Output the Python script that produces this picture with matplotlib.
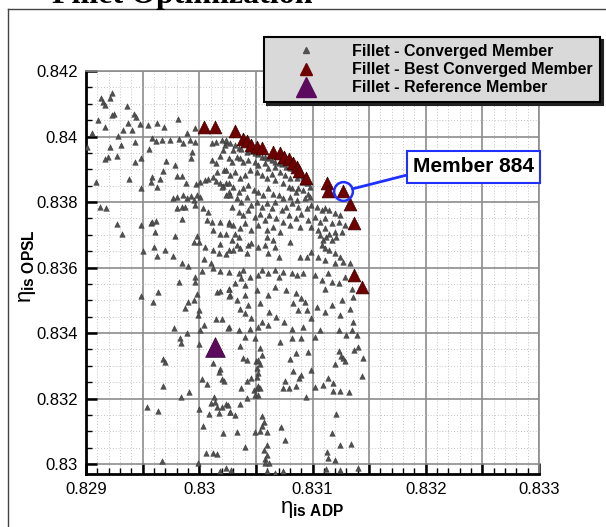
import matplotlib
matplotlib.use('Agg')
import matplotlib.pyplot as plt
from matplotlib.lines import Line2D
from matplotlib.ticker import MultipleLocator, FuncFormatter

plt.rcParams['font.family'] = ['Liberation Sans', 'DejaVu Sans']
plt.rcParams['mathtext.fontset'] = 'custom'
plt.rcParams['mathtext.rm'] = 'Liberation Sans'
plt.rcParams['mathtext.bf'] = 'Liberation Sans:bold'
plt.rcParams['mathtext.it'] = 'Liberation Sans:italic'

# converged members, read region by region off the picture (eta_is ADP, eta_is OPSL)
adp_upper_left = [
    0.82923, 0.82921, 0.82913, 0.82915, 0.82917, 0.82936, 0.82925, 0.82923, 0.82942, 0.82944,
    0.82911, 0.82937, 0.82948, 0.82917, 0.82933, 0.82941, 0.82955, 0.82963, 0.82969, 0.82981,
    0.82905, 0.82928, 0.82958, 0.82962, 0.82967, 0.82974, 0.82982, 0.82989, 0.82996, 0.82992,
    0.82996, 0.82986, 0.82943, 0.82901, 0.82921, 0.82931, 0.82956, 0.82994, 0.82993, 0.82971,
    0.82979, 0.82949, 0.82943, 0.82927, 0.82919, 0.82917, 0.82968, 0.82958, 0.82965, 0.82980,
    0.82985, 0.82909, 0.82938, 0.82957, 0.82963, 0.82949, 0.82988, 0.82997, 0.83001, 0.83005,
    0.83008, 0.83012, 0.83015, 0.82980, 0.82977, 0.82986, 0.82989, 0.82993, 0.82998, 0.83001,
    0.82995, 0.82980, 0.82985, 0.82987, 0.82996, 0.83003, 0.83008, 0.82912, 0.82918, 0.83011,
    0.83015, 0.83018, 0.83021, 0.83023, 0.83024, 0.83011, 0.83015, 0.83020, 0.83018, 0.83021,
    0.83024, 0.83020, 0.83022, 0.83016, 0.83024, 0.83026,
]
opsl_upper_left = [
    0.84132, 0.84117, 0.84117, 0.84106, 0.84096, 0.84093, 0.84069, 0.84066, 0.84069, 0.84059,
    0.84050, 0.84042, 0.84038, 0.84030, 0.84020, 0.84020, 0.84035, 0.84040, 0.84030, 0.84052,
    0.84012, 0.84002, 0.83997, 0.83987, 0.83989, 0.83989, 0.83991, 0.84010, 0.84025, 0.83989,
    0.83984, 0.83979, 0.83984, 0.83969, 0.83967, 0.83974, 0.83962, 0.83954, 0.83933, 0.83926,
    0.83913, 0.83935, 0.83921, 0.83940, 0.83938, 0.83930, 0.83896, 0.83877, 0.83869, 0.83879,
    0.83879, 0.83862, 0.83870, 0.83862, 0.83847, 0.83844, 0.83859, 0.83854, 0.83862, 0.83867,
    0.83869, 0.83875, 0.83865, 0.83816, 0.83811, 0.83821, 0.83811, 0.83818, 0.83821, 0.83816,
    0.83806, 0.83781, 0.83786, 0.83784, 0.83791, 0.83781, 0.83770, 0.83786, 0.83781, 0.83928,
    0.83920, 0.83940, 0.83959, 0.83974, 0.83984, 0.83979, 0.83984, 0.83989, 0.83857, 0.83849,
    0.83857, 0.83847, 0.83898, 0.83893, 0.83821, 0.83832,
]

adp_upper_right = [
    0.83024, 0.83027, 0.83032, 0.83035, 0.83030, 0.83037, 0.83042, 0.83046, 0.83049, 0.83052,
    0.83055, 0.83058, 0.83061, 0.83064, 0.83067, 0.83070, 0.83073, 0.83077, 0.83080, 0.83083,
    0.83086, 0.83089, 0.83092, 0.83026, 0.83029, 0.83033, 0.83036, 0.83039, 0.83043, 0.83049,
    0.83052, 0.83058, 0.83061, 0.83067, 0.83071, 0.83076, 0.83080, 0.83086, 0.83091, 0.83095,
    0.83098, 0.83024, 0.83027, 0.83032, 0.83036, 0.83040, 0.83045, 0.83051, 0.83055, 0.83060,
    0.83064, 0.83067, 0.83074, 0.83079, 0.83082, 0.83085, 0.83087, 0.83092, 0.83096, 0.83026,
    0.83030, 0.83035, 0.83039, 0.83043, 0.83048, 0.83052, 0.83056, 0.83061, 0.83065, 0.83070,
    0.83074, 0.83080, 0.83086, 0.83093, 0.83098, 0.83027, 0.83033, 0.83037, 0.83042, 0.83046,
    0.83051, 0.83055, 0.83060, 0.83064, 0.83067, 0.83073, 0.83077, 0.83082, 0.83087, 0.83095,
    0.83099, 0.83104, 0.83108, 0.83111, 0.83115, 0.83120, 0.83124, 0.83029, 0.83035, 0.83039,
    0.83043, 0.83049, 0.83054, 0.83058, 0.83062, 0.83068, 0.83074, 0.83079, 0.83085, 0.83090,
    0.83096, 0.83102, 0.83107, 0.83111, 0.83117, 0.83123, 0.83129, 0.83026, 0.83030, 0.83036,
    0.83040, 0.83046, 0.83052, 0.83060, 0.83065, 0.83071, 0.83080, 0.83089, 0.83099, 0.83105,
    0.83111, 0.83120, 0.83126,
]
opsl_upper_right = [
    0.83989, 0.83979, 0.83974, 0.83966, 0.83959, 0.83962, 0.83954, 0.83956, 0.83949, 0.83946,
    0.83938, 0.83938, 0.83933, 0.83928, 0.83923, 0.83918, 0.83915, 0.83908, 0.83903, 0.83903,
    0.83893, 0.83882, 0.83877, 0.83933, 0.83923, 0.83938, 0.83933, 0.83923, 0.83928, 0.83923,
    0.83913, 0.83918, 0.83903, 0.83908, 0.83893, 0.83882, 0.83872, 0.83872, 0.83862, 0.83857,
    0.83847, 0.83898, 0.83882, 0.83893, 0.83872, 0.83882, 0.83898, 0.83893, 0.83882, 0.83872,
    0.83887, 0.83867, 0.83857, 0.83847, 0.83842, 0.83831, 0.83842, 0.83837, 0.83826, 0.83857,
    0.83847, 0.83831, 0.83842, 0.83852, 0.83837, 0.83831, 0.83821, 0.83842, 0.83826, 0.83821,
    0.83811, 0.83816, 0.83806, 0.83811, 0.83816, 0.83821, 0.83811, 0.83801, 0.83816, 0.83791,
    0.83801, 0.83786, 0.83796, 0.83781, 0.83801, 0.83775, 0.83786, 0.83796, 0.83786, 0.83781,
    0.83791, 0.83786, 0.83775, 0.83781, 0.83775, 0.83768, 0.83762, 0.83786, 0.83770, 0.83760,
    0.83775, 0.83755, 0.83765, 0.83745, 0.83760, 0.83750, 0.83740, 0.83760, 0.83750, 0.83765,
    0.83745, 0.83755, 0.83740, 0.83750, 0.83735, 0.83740, 0.83730, 0.83740, 0.83730, 0.83720,
    0.83735, 0.83715, 0.83730, 0.83715, 0.83725, 0.83709, 0.83730, 0.83725, 0.83725, 0.83715,
    0.83720, 0.83709, 0.83709,
]

adp_middle_right = [
    0.83032, 0.83035, 0.83029, 0.83033, 0.83026, 0.83030, 0.83036, 0.83043, 0.83046, 0.83042,
    0.83052, 0.83060, 0.83058, 0.83065, 0.83067, 0.83061, 0.83070, 0.83080, 0.83089, 0.83095,
    0.83099, 0.83107, 0.83109, 0.83112, 0.83115, 0.83117, 0.83121, 0.83108, 0.83111, 0.83115,
    0.83120, 0.83124, 0.83127, 0.83120, 0.83133, 0.83111, 0.83105, 0.83026, 0.83035, 0.83039,
    0.83037, 0.83032, 0.83040, 0.83045, 0.83052, 0.83055, 0.83061, 0.83067, 0.83070, 0.83074,
    0.83082, 0.83086, 0.83092, 0.83102, 0.83108, 0.83111, 0.83114, 0.83117, 0.83123, 0.83129,
    0.83136, 0.83135, 0.83126, 0.83026, 0.83027, 0.83033, 0.83040, 0.83036, 0.83043, 0.83040,
    0.83046, 0.83051, 0.83054, 0.83061, 0.83067, 0.83077, 0.83085, 0.83090, 0.83093, 0.83083,
    0.83087, 0.83095, 0.83062, 0.83068, 0.83075, 0.83082, 0.83092, 0.83099, 0.83104, 0.83111,
    0.83117, 0.83124, 0.83133, 0.83136, 0.83135, 0.83026, 0.83035, 0.83045, 0.83052, 0.83055,
    0.83061, 0.83040, 0.83049, 0.83071, 0.83082, 0.83090, 0.83102, 0.83107, 0.83123, 0.83130,
    0.83139,
]
opsl_middle_right = [
    0.83704, 0.83694, 0.83684, 0.83669, 0.83654, 0.83654, 0.83659, 0.83669, 0.83674, 0.83643,
    0.83664, 0.83694, 0.83669, 0.83684, 0.83664, 0.83643, 0.83633, 0.83679, 0.83633, 0.83633,
    0.83648, 0.83699, 0.83684, 0.83694, 0.83704, 0.83684, 0.83694, 0.83669, 0.83659, 0.83654,
    0.83643, 0.83633, 0.83618, 0.83613, 0.83613, 0.83623, 0.83633, 0.83587, 0.83582, 0.83592,
    0.83567, 0.83552, 0.83547, 0.83572, 0.83577, 0.83592, 0.83582, 0.83592, 0.83572, 0.83587,
    0.83582, 0.83577, 0.83582, 0.83577, 0.83562, 0.83536, 0.83582, 0.83557, 0.83552, 0.83572,
    0.83511, 0.83536, 0.83501, 0.83536, 0.83516, 0.83501, 0.83516, 0.83475, 0.83485, 0.83460,
    0.83445, 0.83531, 0.83491, 0.83516, 0.83541, 0.83531, 0.83521, 0.83506, 0.83496, 0.83491,
    0.83470, 0.83470, 0.83465, 0.83450, 0.83435, 0.83414, 0.83419, 0.83445, 0.83480, 0.83465,
    0.83485, 0.83455, 0.83475, 0.83435, 0.83409, 0.83419, 0.83409, 0.83414, 0.83419, 0.83435,
    0.83425, 0.83389, 0.83384, 0.83374, 0.83384, 0.83384, 0.83389, 0.83409, 0.83409, 0.83394,
    0.83394,
]

adp_middle_left = [
    0.82927, 0.82932, 0.82949, 0.82957, 0.82958, 0.82962, 0.82961, 0.82950, 0.82960, 0.82963,
    0.82970, 0.82977, 0.82979, 0.82985, 0.82985, 0.82990, 0.82995, 0.82998, 0.83000, 0.83005,
    0.83004, 0.83010, 0.83012, 0.83017, 0.83018, 0.83024, 0.83012, 0.83018, 0.83024, 0.83007,
    0.83011, 0.83018, 0.83026, 0.83002, 0.83012, 0.83018, 0.82996, 0.82996, 0.82982, 0.82964,
    0.82949, 0.82959, 0.82987, 0.82990, 0.82995, 0.82998, 0.83000, 0.82999, 0.83004, 0.83001,
    0.83016, 0.83018, 0.83026, 0.83026, 0.83015, 0.83020, 0.83025, 0.82978, 0.82989, 0.82983,
]
opsl_middle_left = [
    0.83733, 0.83702, 0.83730, 0.83735, 0.83740, 0.83743, 0.83709, 0.83650, 0.83664, 0.83635,
    0.83653, 0.83635, 0.83696, 0.83747, 0.83615, 0.83606, 0.83679, 0.83696, 0.83677, 0.83664,
    0.83625, 0.83615, 0.83653, 0.83645, 0.83672, 0.83641, 0.83715, 0.83702, 0.83702, 0.83745,
    0.83740, 0.83740, 0.83733, 0.83589, 0.83600, 0.83590, 0.83572, 0.83557, 0.83555, 0.83526,
    0.83514, 0.83496, 0.83478, 0.83496, 0.83501, 0.83519, 0.83472, 0.83455, 0.83424, 0.83409,
    0.83526, 0.83529, 0.83536, 0.83513, 0.83442, 0.83442, 0.83417, 0.83417, 0.83399, 0.83384,
]

adp_lower_left = [
    0.82984, 0.83000, 0.82968, 0.82970, 0.82968, 0.82984, 0.82991, 0.83002, 0.83007, 0.83012,
    0.83018, 0.83017, 0.83020, 0.83022, 0.82954, 0.82964, 0.83000, 0.83010, 0.83014, 0.83013,
    0.83016, 0.83020, 0.83024, 0.83027, 0.83009, 0.83017, 0.83003, 0.83021, 0.83006, 0.83012,
    0.83016, 0.82967, 0.82999, 0.83018, 0.83024,
]
opsl_lower_left = [
    0.83369, 0.83367, 0.83321, 0.83313, 0.83238, 0.83204, 0.83221, 0.83259, 0.83246, 0.83310,
    0.83289, 0.83280, 0.83259, 0.83255, 0.83173, 0.83163, 0.83167, 0.83187, 0.83189, 0.83204,
    0.83173, 0.83175, 0.83183, 0.83160, 0.83153, 0.83155, 0.83116, 0.83096, 0.83035, 0.83033,
    0.83031, 0.83009, 0.83005, 0.82980, 0.82987,
]

adp_lower_right = [
    0.83036, 0.83054, 0.83039, 0.83042, 0.83050, 0.83052, 0.83055, 0.83054, 0.83051, 0.83052,
    0.83051, 0.83046, 0.83042, 0.83037, 0.83048, 0.83051, 0.83052, 0.83054, 0.83049, 0.83052,
    0.83042, 0.83025, 0.83036, 0.83027, 0.83032, 0.83033, 0.83040, 0.83055, 0.83057, 0.83055,
    0.83060, 0.83054, 0.83049, 0.83072, 0.83076, 0.83060, 0.83057, 0.83060, 0.83058, 0.83062,
    0.83058, 0.83028, 0.83060, 0.83067, 0.83074, 0.83080, 0.83085, 0.83096, 0.83083, 0.83090,
    0.83088, 0.83076, 0.83074, 0.83079, 0.83085, 0.83094, 0.83099, 0.83102, 0.83109, 0.83114,
    0.83118, 0.83120, 0.83123, 0.83125, 0.83127, 0.83129, 0.83137, 0.83140, 0.83145, 0.83144,
    0.83118, 0.83124, 0.83132, 0.83121, 0.83117, 0.83124, 0.83134, 0.83113, 0.83114, 0.83120,
    0.83112, 0.83124, 0.83140,
]
opsl_lower_right = [
    0.83361, 0.83355, 0.83323, 0.83318, 0.83315, 0.83318, 0.83333, 0.83307, 0.83294, 0.83277,
    0.83267, 0.83262, 0.83254, 0.83233, 0.83226, 0.83233, 0.83239, 0.83231, 0.83211, 0.83211,
    0.83201, 0.83182, 0.83185, 0.83160, 0.83150, 0.83099, 0.83051, 0.83148, 0.83129, 0.83117,
    0.83097, 0.83101, 0.83097, 0.83114, 0.83075, 0.83060, 0.83043, 0.83028, 0.83017, 0.83005,
    0.83005, 0.82982, 0.82979, 0.82972, 0.82979, 0.83321, 0.83338, 0.83343, 0.83284, 0.83272,
    0.83262, 0.83253, 0.83233, 0.83233, 0.83239, 0.83206, 0.83287, 0.83236, 0.83243, 0.83262,
    0.83249, 0.83307, 0.83345, 0.83331, 0.83323, 0.83315, 0.83348, 0.83358, 0.83325, 0.83270,
    0.83223, 0.83223, 0.83219, 0.83152, 0.83094, 0.83058, 0.83063, 0.83038, 0.83020, 0.83013,
    0.82985, 0.82982, 0.82987,
]

# best converged members (Pareto front)
best_adp = [0.83004, 0.83014, 0.83032, 0.83039, 0.83042, 0.83046, 0.83051, 0.83055,
            0.83065, 0.83071, 0.83075, 0.83079, 0.83083, 0.83086, 0.83088, 0.83094,
            0.83113, 0.83114, 0.83127, 0.83133, 0.83137, 0.83137, 0.83144]
best_opsl = [0.84030, 0.84030, 0.84018, 0.83992, 0.83986, 0.83974, 0.83969, 0.83964,
             0.83954, 0.83951, 0.83938, 0.83930, 0.83920, 0.83908, 0.83896, 0.83872,
             0.83857, 0.83835, 0.83833, 0.83795, 0.83736, 0.83577, 0.83540]
member_884 = 18

ref_adp = [0.83014]
ref_opsl = [0.83357]

legend_labels = ['Fillet - Converged Member', 'Fillet - Best Converged Member',
                 'Fillet - Reference Member']

conv_adp = (adp_upper_left + adp_upper_right + adp_middle_right + adp_middle_left
            + adp_lower_left + adp_lower_right)
conv_opsl = (opsl_upper_left + opsl_upper_right + opsl_middle_right + opsl_middle_left
             + opsl_lower_left + opsl_lower_right)

gray = '#505050'
red = '#6e0000'
purple = '#5b0a5e'
blue = '#1f30ff'

fig = plt.figure(figsize=(6.06, 5.27), dpi=100)
ax = fig.add_axes([86 / 606, 53 / 527, 453 / 606, 403 / 527])

ax.scatter(conv_adp, conv_opsl, marker='^', s=16, c=gray, edgecolors='#303030',
           linewidths=0.3, zorder=3)
ax.scatter(best_adp, best_opsl, marker='^', s=85, c=red, edgecolors='#3a0000',
           linewidths=0.5, zorder=4)
ax.scatter(ref_adp, ref_opsl, marker='^', s=200, c=purple, edgecolors='#300030',
           linewidths=0.5, zorder=4)

ax.set_xlim(0.829, 0.833)
ax.set_ylim(0.8297, 0.842)

ax.xaxis.set_major_locator(MultipleLocator(0.0005))
ax.xaxis.set_minor_locator(MultipleLocator(0.0001))
ax.yaxis.set_major_locator(MultipleLocator(0.002))
ax.yaxis.set_minor_locator(MultipleLocator(0.0005))


def fmt_x(v, pos):
    if abs(v * 1000 - round(v * 1000)) < 1e-6:
        return '%g' % round(v, 3)
    return ''


ax.xaxis.set_major_formatter(FuncFormatter(fmt_x))
ax.yaxis.set_major_formatter(FuncFormatter(lambda v, p: '%g' % round(v, 3)))

ax.set_axisbelow(True)
ax.grid(which='major', color='#8c8c8c', lw=1.2)
ax.grid(which='minor', color='#c4c4c4', lw=0.7, linestyle=(0, (1, 2)))

ax.tick_params(which='major', direction='in', length=8, width=1.8, labelsize=12, pad=6,
               top=False, right=False)
ax.tick_params(which='minor', direction='in', length=4.5, width=1, top=False, right=False)
for side in ['left', 'bottom']:
    ax.spines[side].set_linewidth(2)
    ax.spines[side].set_color('black')
for side in ['top', 'right']:
    ax.spines[side].set_linewidth(1.2)
    ax.spines[side].set_color('#8c8c8c')

# Member 884 callout
ax.plot([best_adp[member_884]], [best_opsl[member_884]], 'o', ms=13.5, mfc='none',
        mec=blue, mew=1.8, zorder=5)
ax.annotate('Member 884', xy=(best_adp[member_884], best_opsl[member_884]),
            xytext=(0.855, 0.762), textcoords='axes fraction', ha='center', va='center',
            fontsize=15, fontweight='bold',
            bbox=dict(boxstyle='square,pad=0.3', fc='white', ec=blue, lw=1.5),
            arrowprops=dict(arrowstyle='-', color=blue, lw=2, shrinkA=0, shrinkB=7,
                            relpos=(0, 0.15)),
            zorder=6)

handles = [
    Line2D([], [], ls='', marker='^', ms=4, color=gray),
    Line2D([], [], ls='', marker='^', ms=9, color=red),
    Line2D([], [], ls='', marker='^', ms=14, color=purple),
]
leg = ax.legend(handles, legend_labels, loc='upper right',
                bbox_to_anchor=(600 / 606, 1 - 37 / 527), bbox_transform=fig.transFigure,
                prop={'weight': 'bold', 'size': 11.5}, fancybox=False, edgecolor='black',
                facecolor='#d9d9d9', framealpha=1, borderpad=0.44, handlelength=4.4,
                handletextpad=0.7, labelspacing=0.2, borderaxespad=0,
                shadow={'color': '#222222', 'alpha': 1})
leg.get_frame().set_linewidth(1.5)
leg.set_zorder(10)

fig.text(312 / 606, 1 - 510 / 527, r'$\mathrm{\eta}_{\mathbf{is\ ADP}}$', fontsize=16,
         ha='center', va='center')
fig.text(28 / 606, 1 - 266 / 527, r'$\mathrm{\eta}_{\mathbf{is\ OPSL}}$', fontsize=16,
         rotation=90, ha='center', va='center')

# cropped page title and figure frame
fig.text(52 / 606, 1 - 3 / 527, 'Fillet Optimization', family='Liberation Serif',
         fontweight='bold', fontsize=23, ha='left', va='baseline')
fig.add_artist(Line2D([8 / 606, 8 / 606], [0, 1 - 9 / 527], transform=fig.transFigure,
                      color='#444444', lw=1))
fig.add_artist(Line2D([8 / 606, 1], [1 - 9 / 527, 1 - 9 / 527], transform=fig.transFigure,
                      color='#444444', lw=1))

fig.savefig('out.png', dpi=100)
